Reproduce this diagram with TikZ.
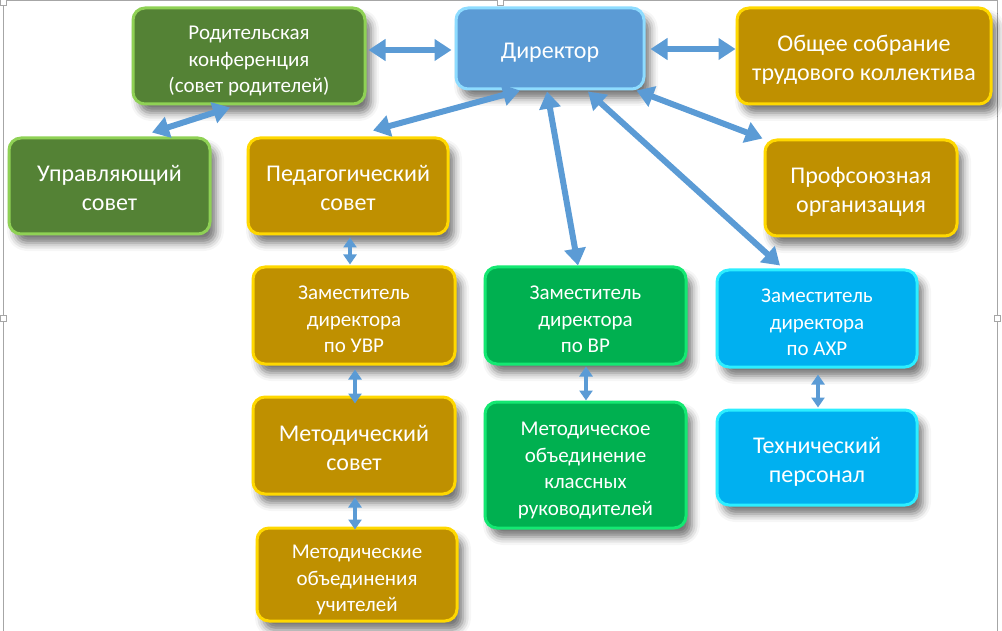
\documentclass[tikz,border=0pt]{standalone}
\usepackage{fontspec}
\setmainfont{Carlito}
\usetikzlibrary{shapes,arrows.meta,shadows.blur}
\definecolor{leafgreen}{HTML}{548235}
\definecolor{leafgreenlight}{HTML}{8FD155}
\definecolor{chiefblue}{HTML}{5B9BD5}
\definecolor{chiefbluelight}{HTML}{8EDCFF}
\definecolor{darkgold}{HTML}{BF9000}
\definecolor{darkgoldlight}{HTML}{FFD800}
\definecolor{grassgreen}{HTML}{00B050}
\definecolor{grassgreenlight}{HTML}{14E872}
\definecolor{skyblue}{HTML}{00B0F0}
\definecolor{skybluelight}{HTML}{2CEEFF}
\definecolor{arrowblue}{HTML}{5B9BD5}
\definecolor{framegray}{HTML}{A6A6A6}
\newcommand{\tstrut}{\rule{0pt}{27pt}}
\tikzstyle{box} = [rectangle, rounded corners=12pt, line width=3pt, text=white, align=center, inner sep=0pt, text depth=6pt, blur shadow={shadow xshift=6pt, shadow yshift=-9pt, shadow blur radius=8pt, shadow opacity=55}]
\tikzstyle{greenbox} = [box, fill=leafgreen, draw=leafgreenlight]
\tikzstyle{bluebox} = [box, fill=chiefblue, draw=chiefbluelight]
\tikzstyle{goldbox} = [box, fill=darkgold, draw=darkgoldlight]
\tikzstyle{grassbox} = [box, fill=grassgreen, draw=grassgreenlight]
\tikzstyle{skybox} = [box, fill=skyblue, draw=skybluelight]
\tikzstyle{bigtext} = [font=\fontsize{24}{29}\selectfont]
\tikzstyle{smalltext} = [font=\fontsize{21}{26.5}\selectfont]
\tikzstyle{line} = [draw=arrowblue, line width=6pt, {Triangle[width=21pt,length=17pt]}-{Triangle[width=21pt,length=17pt]}]
\tikzstyle{shortline} = [draw=arrowblue, line width=4pt, {Triangle[width=13pt,length=10pt]}-{Triangle[width=13pt,length=10pt]}]
\begin{document}
\begin{tikzpicture}[x=1pt,y=-1pt,node distance=130pt]

\useasboundingbox (0,0) rectangle (1002,631);
\draw[framegray, line width=1pt] (3,631) -- (3,1) -- (997,1) -- (997,631);
\foreach \hx/\hy in {3/2,500/2,3/318,997/318}
  \draw[framegray, fill=white, line width=0.8pt] (\hx-3,\hy-3) rectangle (\hx+3,\hy+3);

\node[bluebox,bigtext,minimum width=188pt,minimum height=81pt] (dir) at (550,48.5) {\tstrut Директор};
\node[greenbox,smalltext,minimum width=232pt,minimum height=96pt] (parent) at (249,56) {\tstrut Родительская\\конференция\\(совет родителей)};
\path [line] ([xshift=2pt,yshift=6pt]parent.east) -- ([xshift=-3pt,yshift=-1.5pt]dir.west);
\node[goldbox,bigtext,minimum width=254pt,minimum height=96pt] (meeting) at (864,56) {\tstrut Общее собрание\\трудового коллектива};
\path [line] ([xshift=5pt,yshift=-0.5pt]dir.east) -- ([yshift=7pt]meeting.west);
\node[greenbox,bigtext,minimum width=201pt,minimum height=96pt] (council) at (109.5,186) {\tstrut Управляющий\\совет};
\path [line] ([xshift=-19pt,yshift=-2pt]parent.south) -- ([xshift=42.5pt,yshift=4pt]council.north);
\node[goldbox,bigtext,minimum width=200pt,minimum height=96pt] (ped) at (348,186) {\tstrut Педагогический\\совет};
\path [line] ([xshift=-30pt]dir.south) -- ([xshift=25pt,yshift=6pt]ped.north);
\node[goldbox,bigtext,minimum width=192pt,minimum height=96pt] (union) at (861,188) {\tstrut Профсоюзная\\организация};
\path [line] ([xshift=-9pt]dir.south east) -- ([xshift=-1pt]union.north west);

% left column
\node[goldbox,smalltext,below of=ped,node distance=129.5pt,xshift=6pt,minimum width=202pt,minimum height=97pt] (uvr) {\tstrut Заместитель\\директора\\по УВР};
\path [shortline] ([xshift=2pt,yshift=-2pt]ped.south) -- ([xshift=-4pt,yshift=1pt]uvr.north);
\node[goldbox,bigtext,below of=uvr,minimum width=202pt,minimum height=97pt] (metcouncil) {\tstrut Методический\\совет};
\path [shortline] ([xshift=1pt,yshift=-4pt]uvr.south) -- ([xshift=1pt,yshift=-8pt]metcouncil.north);
\node[goldbox,smalltext,below of=metcouncil,node distance=129pt,xshift=3pt,minimum width=200pt,minimum height=93pt] (metunion) {\tstrut Методические\\объединения\\учителей};
\path [shortline] ([xshift=1pt,yshift=-2pt]metcouncil.south) -- ([xshift=-2pt,yshift=-3pt]metunion.north);

% middle column
\node[grassbox,smalltext,minimum width=201pt,minimum height=97pt] (vr) at (585.5,315.5) {\tstrut Заместитель\\директора\\по ВР};
\path [line] ([xshift=-3pt,yshift=-1pt]dir.south) -- ([xshift=-7.5pt]vr.north);
\node[grassbox,smalltext,below of=vr,node distance=149.5pt,minimum width=201pt,minimum height=126pt] (mokr) {\tstrut Методическое\\объединение\\классных\\руководителей};
\path [shortline] ([xshift=0.5pt,yshift=-1pt]vr.south) -- ([xshift=0.5pt]mokr.north);

% right column
\node[skybox,smalltext,minimum width=200pt,minimum height=97pt] (ahr) at (817,318.5) {\tstrut Заместитель\\директора\\по АХР};
\path [line] ([xshift=38pt,yshift=-1pt]dir.south) -- ([xshift=-37pt,yshift=3pt]ahr.north);
\node[skybox,bigtext,below of=ahr,node distance=139pt,minimum width=200pt,minimum height=95pt] (staff) {\tstrut Технический\\персонал};
\path [shortline] ([xshift=1pt,yshift=-6pt]ahr.south) -- ([xshift=1pt,yshift=1pt]staff.north);

\end{tikzpicture}
\end{document}
